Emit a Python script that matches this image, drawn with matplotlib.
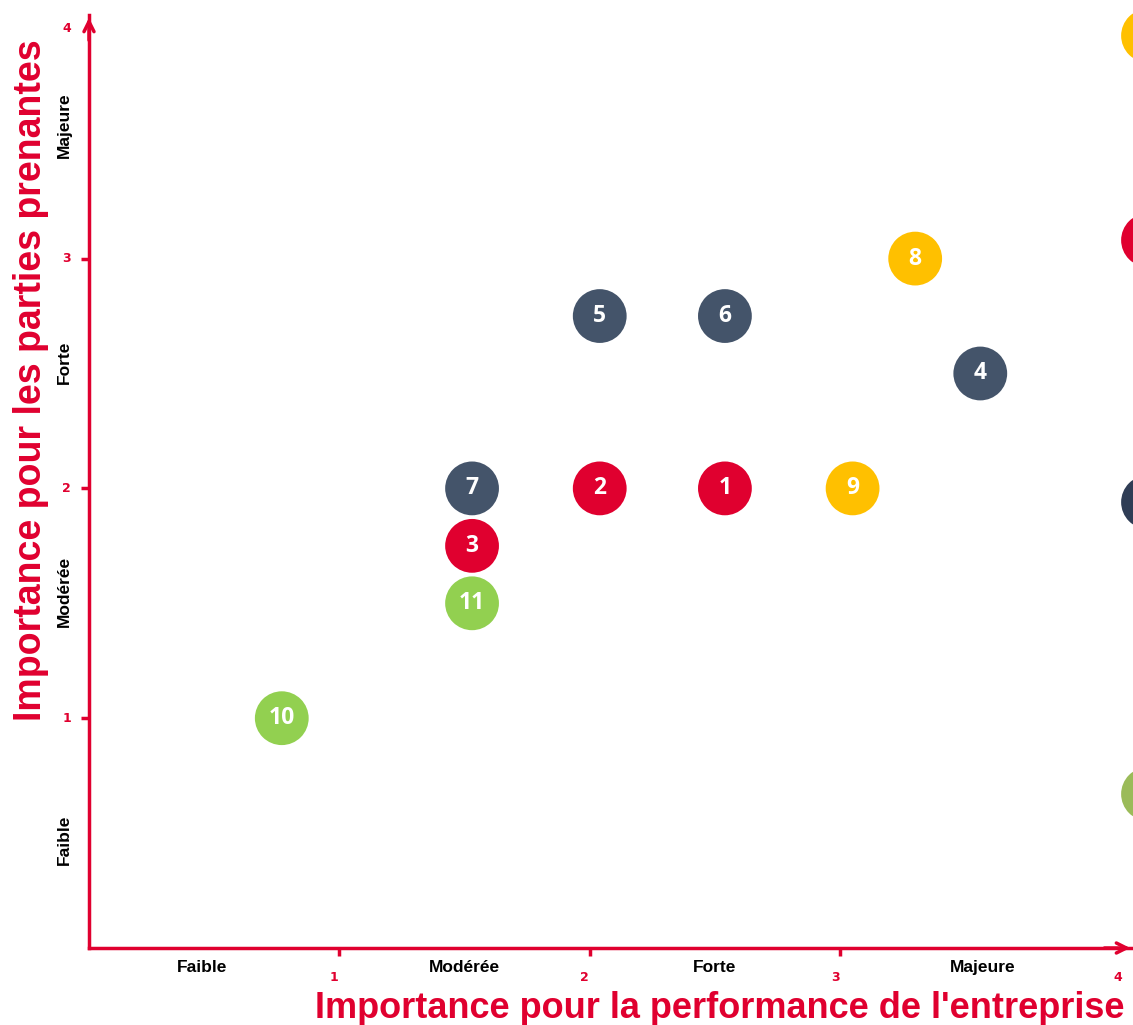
import matplotlib.pyplot as plt
import numpy as np

# data
labels = ['1', '2', '3', '4', '5', '6', '7', '8', '9', '10', '11']
x_perf = [2.54, 2.04, 1.53, 3.56, 2.04, 2.54, 1.53, 3.30, 3.05, 0.77, 1.53]
y_stake = [2.0, 2.0, 1.75, 2.5, 2.75, 2.75, 2.0, 3.0, 2.0, 1.0, 1.5]
groups = ['red', 'red', 'red', 'dark', 'dark', 'dark', 'dark', 'yellow', 'yellow', 'green', 'green']

group_colors = {'red': '#E0002F', 'dark': '#44546A', 'yellow': '#FFC000', 'green': '#92D050'}
# legend circles cut by the right edge
legend_colors = ['#FFC000', '#E0002F', '#2F3D55', '#9BBB59']
legend_y = [3.97, 3.08, 1.94, 0.67]

levels = ['Faible', 'Modérée', 'Forte', 'Majeure']
level_pos = [0.45, 1.5, 2.5, 3.57]
level_pos_y = [0.47, 1.55, 2.55, 3.58]
ticks = [1, 2, 3, 4]

red = '#E0002F'

fig = plt.figure(figsize=(11.33, 10.25), dpi=100)
ax = fig.add_axes([89 / 1133, 77 / 1025, 1044 / 1133, 933 / 1025])
ax.set_xlim(0, 4.17)
ax.set_ylim(0, 4.06)

for s in ['top', 'right']:
    ax.spines[s].set_visible(False)
for s in ['left', 'bottom']:
    ax.spines[s].set_color(red)
    ax.spines[s].set_linewidth(2.5)

# open arrow heads at axis ends
ax.annotate('', xy=(1.0, 0), xytext=(0.97, 0), xycoords='axes fraction',
            arrowprops=dict(arrowstyle='->', color=red, lw=2.5, mutation_scale=18), annotation_clip=False)
ax.annotate('', xy=(0, 1.0), xytext=(0, 0.97), xycoords='axes fraction',
            arrowprops=dict(arrowstyle='->', color=red, lw=2.5, mutation_scale=18), annotation_clip=False)

ax.set_xticks(ticks[:3])
ax.set_yticks(ticks[:3])
ax.set_xticklabels([])
ax.set_yticklabels([])
ax.tick_params(colors=red, length=6, width=2.5, direction='out')

# numeric tick labels
for t in ticks:
    ax.text(t - 0.02 + (0.13 if t == 4 else 0), -0.13, str(t), color=red, fontsize=9, fontweight='bold',
            ha='center', va='center', family='DejaVu Sans')
    ax.text(-0.09, t, str(t), color=red, fontsize=9, fontweight='bold',
            ha='center', va='center', family='DejaVu Sans')

# level labels
for name, px, py in zip(levels, level_pos, level_pos_y):
    ax.text(px, -0.085, name, fontsize=12.5, fontweight='bold', ha='center', va='center',
            family='Liberation Sans')
    ax.text(-0.1, py, name, fontsize=12.5, fontweight='bold', ha='center', va='center',
            rotation=90, family='Liberation Sans')

# points
cols = [group_colors[g] for g in groups]
ax.scatter(x_perf, y_stake, s=1500, c=cols, edgecolors='none', zorder=3, clip_on=False)
for lab, xv, yv in zip(labels, x_perf, y_stake):
    ax.text(xv, yv, lab, color='white', fontsize=16.5, fontweight='bold', ha='center', va='center',
            family='Open Sans', zorder=4)

ax.scatter([4.23] * len(legend_y), legend_y, s=1500, c=legend_colors, edgecolors='none',
           zorder=3, clip_on=False)

fig.text(0.635, 0.016, "Importance pour la performance de l'entreprise", color=red, fontsize=26,
         fontweight='bold', ha='center', va='center', family='Liberation Sans')
fig.text(0.027, 0.629, 'Importance pour les parties prenantes', color=red, fontsize=27,
         fontweight='bold', ha='center', va='center', rotation=90, family='Liberation Sans')

fig.savefig('out.png', dpi=100)
